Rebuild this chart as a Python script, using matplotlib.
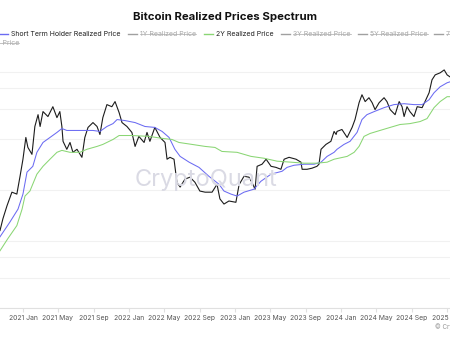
import matplotlib
matplotlib.use("Agg")
import matplotlib.pyplot as plt
import matplotlib.dates as mdates
from matplotlib.lines import Line2D
from matplotlib.ticker import FixedLocator, NullLocator
import pandas as pd

plt.rcParams["font.family"] = ["Inter", "DejaVu Sans"]

# --- data (USD, log scale) ---
price_dates = [
    "2020-10-14", "2020-10-24", "2020-11-07", "2020-11-24", "2020-12-11", "2020-12-22",
    "2021-01-01", "2021-01-11", "2021-01-18", "2021-02-01", "2021-02-11", "2021-02-22",
    "2021-03-01", "2021-03-11", "2021-03-28", "2021-04-14", "2021-04-28", "2021-05-08",
    "2021-05-15", "2021-05-19", "2021-06-01", "2021-06-12", "2021-06-22", "2021-07-06",
    "2021-07-23", "2021-08-02", "2021-08-13", "2021-08-30", "2021-09-13", "2021-09-23",
    "2021-10-03", "2021-10-17", "2021-11-03", "2021-11-14", "2021-11-28", "2021-12-08",
    "2021-12-25", "2022-01-11", "2022-01-22", "2022-02-04", "2022-02-22", "2022-03-04",
    "2022-03-14", "2022-03-31", "2022-04-18", "2022-05-05", "2022-05-12", "2022-05-22",
    "2022-06-05", "2022-06-15", "2022-06-26", "2022-07-13", "2022-07-30", "2022-08-16",
    "2022-09-02", "2022-09-20", "2022-10-14", "2022-10-31", "2022-11-10", "2022-11-24",
    "2022-12-11", "2023-01-04", "2023-01-15", "2023-02-01", "2023-02-18", "2023-02-28",
    "2023-03-11", "2023-03-18", "2023-04-04", "2023-04-18", "2023-05-05", "2023-05-22",
    "2023-06-08", "2023-06-19", "2023-07-06", "2023-07-30", "2023-08-16", "2023-08-20",
    "2023-09-06", "2023-09-23", "2023-10-10", "2023-10-17", "2023-10-24", "2023-11-10",
    "2023-11-27", "2023-12-08", "2023-12-15", "2023-12-18", "2024-01-04", "2024-01-22",
    "2024-02-08", "2024-02-18", "2024-03-03", "2024-03-13", "2024-03-24", "2024-04-06",
    "2024-04-17", "2024-04-27", "2024-05-11", "2024-05-28", "2024-06-07", "2024-06-18",
    "2024-07-05", "2024-07-19", "2024-07-29", "2024-08-05", "2024-08-15", "2024-08-25",
    "2024-09-08", "2024-09-19", "2024-10-06", "2024-10-16", "2024-10-30", "2024-11-09",
    "2024-11-20", "2024-12-07", "2024-12-21", "2024-12-31", "2025-01-10",
]
price_vals = [
    11500, 13500, 16100, 19400, 18900, 24100,
    30400, 40900, 35700, 32500, 47500, 55800,
    47500, 58200, 54400, 62200, 53600, 58200,
    47500, 38800, 34800, 38200, 33400, 34800,
    31200, 40900, 46900, 50100, 47500, 42600,
    53600, 64000, 62200, 66700, 57400, 50100,
    47500, 43800, 36200, 41500, 38200, 43800,
    38800, 46900, 40900, 38200, 30400, 31200,
    30400, 22200, 20800, 23200, 23800, 22200,
    19700, 19400, 19400, 21600, 17700, 16500,
    17200, 16900, 21500, 24100, 23800, 22200,
    20200, 27600, 28400, 30400, 27600, 27200,
    26500, 30400, 31200, 30400, 29200, 26500,
    26500, 26900, 27600, 28400, 34800, 37200,
    38800, 44400, 42600, 44400, 45600, 40900,
    46900, 52200, 65700, 73200, 66700, 70300,
    65700, 59800, 65700, 70300, 66700, 59800,
    55800, 66700, 62200, 54400, 62200, 58200,
    54400, 62200, 61400, 66700, 75200, 89700,
    96000, 98700, 102700, 96000, 93400,
]

sth_dates = [
    "2020-10-14", "2020-11-17", "2020-12-15", "2021-01-01", "2021-01-15", "2021-02-04",
    "2021-02-18", "2021-03-11", "2021-04-04", "2021-04-28", "2021-05-15", "2021-06-01",
    "2021-07-16", "2021-08-30", "2021-09-23", "2021-10-17", "2021-11-07", "2021-11-21",
    "2021-12-18", "2022-01-22", "2022-02-25", "2022-03-31", "2022-04-25", "2022-05-19",
    "2022-06-08", "2022-06-26", "2022-07-27", "2022-08-30", "2022-10-03", "2022-11-07",
    "2022-11-24", "2022-12-18", "2023-01-08", "2023-02-01", "2023-03-07", "2023-03-31",
    "2023-05-05", "2023-06-12", "2023-06-29", "2023-07-23", "2023-08-27", "2023-09-30",
    "2023-10-24", "2023-11-14", "2023-12-08", "2023-12-18", "2024-01-11", "2024-02-01",
    "2024-02-25", "2024-03-13", "2024-03-30", "2024-04-24", "2024-05-28", "2024-07-01",
    "2024-08-05", "2024-09-08", "2024-10-06", "2024-10-30", "2024-11-16", "2024-12-07",
    "2024-12-31", "2025-01-10",
]
sth_vals = [
    10560, 12900, 15400, 18900, 25500, 27600,
    33400, 38200, 40900, 43800, 46200, 45000,
    45000, 45000, 44400, 47500, 49400, 52200,
    51500, 50100, 47500, 46900, 44400, 40900,
    34800, 31600, 29200, 27200, 24100, 21600,
    19700, 18900, 18400, 19400, 20200, 22500,
    24800, 25800, 27200, 28000, 28400, 28400,
    29200, 31600, 33400, 34800, 37200, 38800,
    43800, 52200, 55800, 58200, 61400, 64000,
    64800, 64000, 64000, 68400, 75200, 81600,
    86200, 87300,
]

r2y_dates = [
    "2020-10-14", "2020-11-10", "2020-12-11", "2020-12-29", "2021-01-08", "2021-01-25",
    "2021-02-18", "2021-03-11", "2021-04-04", "2021-04-28", "2021-05-15", "2021-06-12",
    "2021-07-16", "2021-08-09", "2021-09-13", "2021-10-03", "2021-11-07", "2021-11-28",
    "2022-01-11", "2022-03-11", "2022-04-25", "2022-05-29", "2022-06-22", "2022-08-06",
    "2022-09-20", "2022-10-24", "2022-11-17", "2023-01-08", "2023-02-25", "2023-04-11",
    "2023-05-26", "2023-07-13", "2023-08-27", "2023-10-10", "2023-11-14", "2023-12-08",
    "2024-01-22", "2024-02-15", "2024-03-03", "2024-03-20", "2024-04-10", "2024-05-14",
    "2024-06-18", "2024-07-22", "2024-08-25", "2024-09-29", "2024-10-23", "2024-11-16",
    "2024-12-07", "2024-12-31", "2025-01-10",
]
r2y_vals = [
    8730, 10300, 12300, 15400, 18400, 19700,
    24800, 27600, 30400, 33400, 34300, 33400,
    33400, 34800, 36200, 37200, 39800, 42000,
    42000, 41500, 40400, 39800, 38200, 37200,
    36200, 35700, 33800, 33400, 31600, 30800,
    29600, 29200, 28800, 28800, 29200, 30400,
    31600, 33400, 36200, 41500, 43200, 45000,
    46900, 48800, 49400, 50800, 52900, 61400,
    66700, 71300, 71300,
]

grid_levels = [4000, 6000, 8000, 10000, 20000, 40000, 60000, 80000, 100000]

legend_labels = ["Short Term Holder Realized Price", "1Y Realized Price", "2Y Realized Price",
                 "3Y Realized Price", "5Y Realized Price", "7Y Realized Price"]
legend_colors = ["#6b6bf2", "#a0a0a0", "#8ad674", "#a0a0a0", "#a0a0a0", "#a0a0a0"]
legend_off = [False, True, False, True, True, True]
legend_x = [-1, 128, 204, 281, 358, 434]

W, H = 450, 338
fig = plt.figure(figsize=(W / 100, H / 100), dpi=100)
ax = fig.add_axes([0, 30 / H, 1, 249.5 / H])

ax.plot(pd.to_datetime(price_dates), price_vals, color="#1c1c1c", lw=0.8, zorder=3)
ax.plot(pd.to_datetime(sth_dates), sth_vals, color=legend_colors[0], lw=0.75, zorder=4)
ax.plot(pd.to_datetime(r2y_dates), r2y_vals, color=legend_colors[2], lw=0.75, zorder=4)

ax.set_yscale("log")
ax.set_ylim(4000, 120000)
ax.yaxis.set_major_locator(FixedLocator(grid_levels))
ax.yaxis.set_minor_locator(NullLocator())
ax.grid(axis="y", color="#f1f1f1", lw=0.8, zorder=0)
ax.tick_params(axis="y", left=False, labelleft=False)

ax.set_xlim(pd.Timestamp("2020-10-14"), pd.Timestamp("2025-01-10"))
ax.xaxis.set_major_locator(mdates.MonthLocator(bymonth=[1, 5, 9]))
ax.xaxis.set_major_formatter(mdates.DateFormatter("%Y %b"))
ax.xaxis.set_minor_locator(NullLocator())
ax.tick_params(axis="x", color="#e0e0e0", length=3, width=0.8, labelsize=4.9,
               labelcolor="#555555", pad=2)
for s in ["top", "left", "right"]:
    ax.spines[s].set_visible(False)
ax.spines["bottom"].set_color("#e0e0e0")
ax.spines["bottom"].set_linewidth(0.8)

# watermark
fig.text(206 / W, 1 - 180 / H, "CryptoQuant", fontsize=17, color="#dadae4",
         ha="center", va="center", zorder=1)

fig.text(225 / W, 1 - 17 / H, "Bitcoin Realized Prices Spectrum", fontsize=8.2,
         fontweight="bold", color="#111111", ha="center", va="center")

fig.text(435 / W, 1 - 327 / H, "\u00a9 CryptoQuant", fontsize=4.5, color="#999999",
         ha="left", va="center")

# legend
texts = []
for lab, col, off, x0 in zip(legend_labels, legend_colors, legend_off, legend_x):
    y = 1 - 34 / H
    fig.add_artist(Line2D([x0 / W, (x0 + 9) / W], [y, y], color=col, lw=1.0))
    t = fig.text((x0 + 12) / W, y, lab, fontsize=5,
                 color="#aaaaaa" if off else "#222222", ha="left", va="center")
    texts.append((t, off))

t2 = fig.text(19 / W, 1 - 43 / H, "10Y Realized Price", fontsize=5, color="#aaaaaa",
              ha="right", va="center")
texts.append((t2, True))

fig.canvas.draw()
r = fig.canvas.get_renderer()
for t, off in texts:
    if not off:
        continue
    bb = t.get_window_extent(r)
    ym = (bb.y0 + bb.y1) / 2 / H
    fig.add_artist(Line2D([bb.x0 / W, bb.x1 / W], [ym, ym], color="#aaaaaa", lw=0.5))

fig.savefig("out.png", dpi=100)
